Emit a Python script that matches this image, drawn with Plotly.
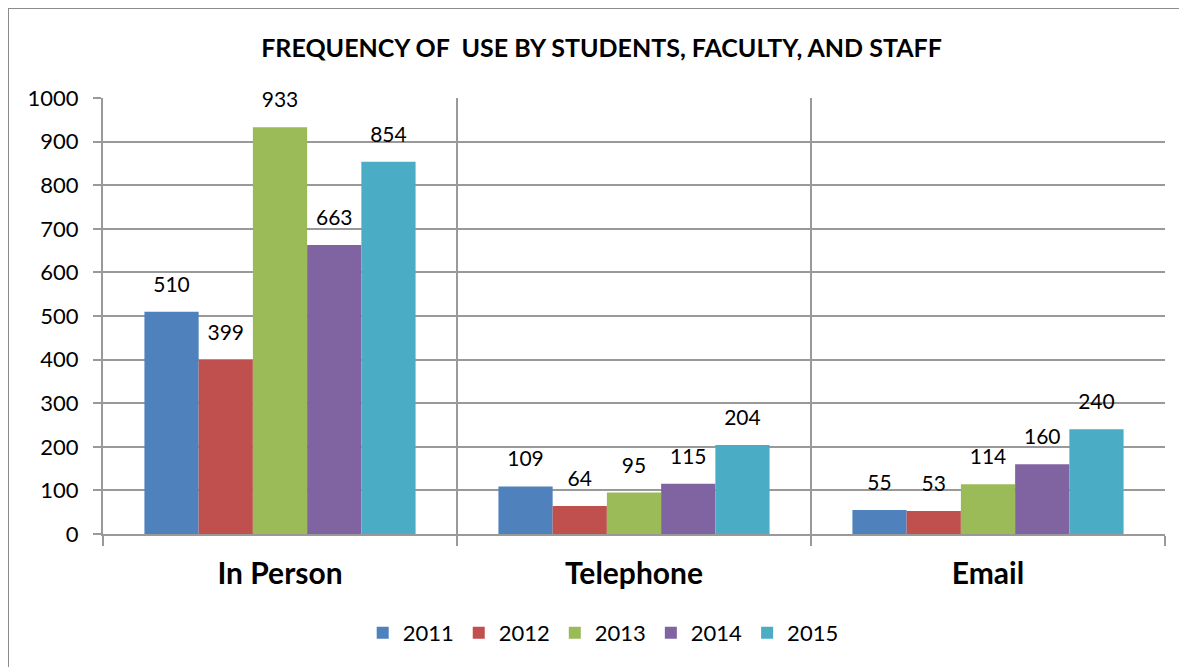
import plotly.graph_objects as go

categories = ['In Person', 'Telephone', 'Email']
years = ['2011', '2012', '2013', '2014', '2015']
values_2011 = [510, 109, 55]
values_2012 = [399, 64, 53]
values_2013 = [933, 95, 114]
values_2014 = [663, 115, 160]
values_2015 = [854, 204, 240]
y_ticks = [0, 100, 200, 300, 400, 500, 600, 700, 800, 900, 1000]

colors = ['#4F81BD', '#C0504D', '#9BBB59', '#8064A2', '#4BACC6']
series = [values_2011, values_2012, values_2013, values_2014, values_2015]

font_family = 'Lato, Carlito, Calibri, sans-serif'

fig = go.Figure()
for year, vals, col in zip(years, series, colors):
    fig.add_trace(go.Bar(
        x=categories,
        y=vals,
        name=year,
        offsetgroup=year,
        marker=dict(color=col, line=dict(width=0)),
    ))
# data labels: invisible markers push the text up off the bar tops
for year, vals in zip(years, series):
    fig.add_trace(go.Scatter(
        x=categories,
        y=vals,
        offsetgroup=year,
        mode='markers+text',
        marker=dict(size=22, opacity=0),
        text=[str(v) for v in vals],
        textposition='top center',
        textfont=dict(size=21, color='black', family=font_family),
        showlegend=False,
        hoverinfo='skip',
        cliponaxis=False,
    ))

fig.update_layout(
    width=1187,
    height=667,
    barmode='group',
    bargap=0.234,
    bargroupgap=0,
    scattermode='group',
    scattergap=0.234,
    plot_bgcolor='white',
    paper_bgcolor='white',
    font=dict(family=font_family, color='black'),
    margin=dict(l=95, r=30, t=90, b=141),
    title=dict(
        text='<b>FREQUENCY OF&nbsp;&nbsp;USE BY STUDENTS, FACULTY, AND STAFF</b>',
        x=0.5, xanchor='center',
        y=1 - 40 / 667, yanchor='middle',
        font=dict(size=25, family=font_family, color='black'),
    ),
    legend=dict(
        orientation='h',
        x=0.471, xanchor='center',
        y=-0.227, yanchor='middle',
        font=dict(size=22, family=font_family, color='black'),
        traceorder='normal',
        itemwidth=30,
    ),
    showlegend=True,
)

fig.update_yaxes(
    range=[0, 1000],
    tickvals=y_ticks,
    showgrid=True,
    gridcolor='#999999',
    gridwidth=1.5,
    showline=True,
    linecolor='#999999',
    linewidth=2,
    ticks='outside',
    ticklen=8,
    tickcolor='#999999',
    tickwidth=1.5,
    tickfont=dict(size=22, color='black'),
    ticklabelstandoff=10,
    zeroline=False,
)

fig.update_xaxes(
    type='category',
    tickson='boundaries',
    showgrid=True,
    gridcolor='#999999',
    gridwidth=1.5,
    showline=True,
    linecolor='#999999',
    linewidth=2,
    ticks='outside',
    ticklen=10,
    tickcolor='#999999',
    tickwidth=1.5,
    tickfont=dict(size=30, color='black'),
    tickprefix='<b>',
    ticksuffix='</b>',
    ticklabelstandoff=12,
)

# outer chart border
fig.add_shape(type='rect', xref='paper', yref='paper',
              x0=-95 / 1062, x1=1.2, y0=-0.5, y1=1 + 90 / 436,
              line=dict(color='#8c8c8c', width=2), layer='below')

fig.write_html('out.html')
